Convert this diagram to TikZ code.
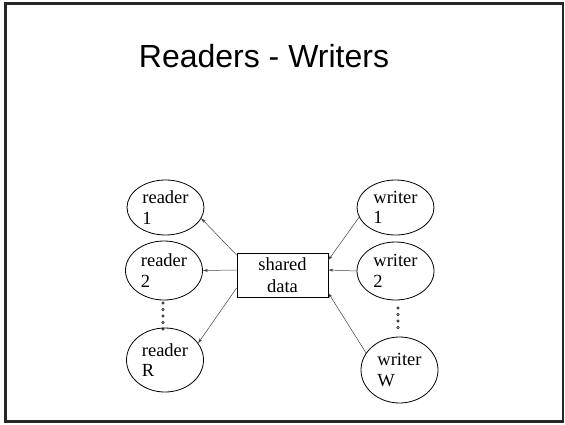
\documentclass[tikz,border=0pt]{standalone}
\usepackage{fontspec}
\setmainfont{Liberation Serif}
\newfontfamily\titlefont{Liberation Sans}
\usetikzlibrary{shapes.geometric,arrows.meta}

\begin{document}
\begin{tikzpicture}[x=1pt,y=-1pt,
  proc/.style={draw,ellipse,line width=0.8pt,inner xsep=0pt,inner ysep=-6pt,
    minimum width=77pt,align=left,font=\fontsize{18.5}{20.5}\selectfont},
  feed/.style={line width=0.5pt,draw=black!75,-{Stealth[length=5pt,width=3pt]}}]
\useasboundingbox (0,0) rectangle (565,424);
\draw[line width=2.5pt,black!85](5.5,3.5) rectangle (563,421.5);
\node[anchor=base] (title) at (264,67) {\titlefont\fontsize{32}{38}\selectfont Readers - Writers};

% readers
\node[proc,minimum height=55pt] (r1) at (165.5,207.5) {reader\\1};
\node[proc,minimum height=59pt] (r2) at (164,270.5) {reader\\2};
\node[proc,minimum height=64pt] (rR) at (165,360) {reader\\R};

% writers
\node[proc,minimum height=55pt] (w1) at (395.5,207.5) {writer\\1};
\node[proc,minimum height=58pt] (w2) at (395.5,271) {writer\\2};
\node[proc,minimum height=66pt] (wW) at (399.5,370) {writer\\W};

\node[draw,line width=0.8pt,minimum width=91pt,minimum height=44pt,inner sep=0pt,
  align=center,font=\fontsize{18.5}{22}\selectfont] (shared) at (282.5,275) {shared\\data};

\draw[feed] ([yshift=20pt]shared.west) -- (r1.-17);
\draw[feed] ([yshift=5pt]shared.west) -- (r2.east);
\draw[feed] ([yshift=-13pt]shared.west) -- (rR.27);

\draw[feed] (w1.195) -- ([yshift=15pt]shared.east);
\draw[feed] (w2.west) -- ([yshift=5pt]shared.east);
\draw[feed] (wW.153) -- ([yshift=-18pt]shared.east);

\draw[line width=0.5pt](163,303)circle (1.3pt);
\draw[line width=0.5pt](163,309.5)circle (1.3pt);
\draw[line width=0.5pt](163,316)circle (1.3pt);
\draw[line width=0.5pt](163,322.5)circle (1.3pt);
\draw[line width=0.5pt](163,329)circle (1.3pt);

\draw[line width=0.5pt](398,308)circle (1.3pt);
\draw[line width=0.5pt](398,314.5)circle (1.3pt);
\draw[line width=0.5pt](398,321)circle (1.3pt);
\draw[line width=0.5pt](398,327.5)circle (1.3pt);

\end{tikzpicture}
\end{document}
